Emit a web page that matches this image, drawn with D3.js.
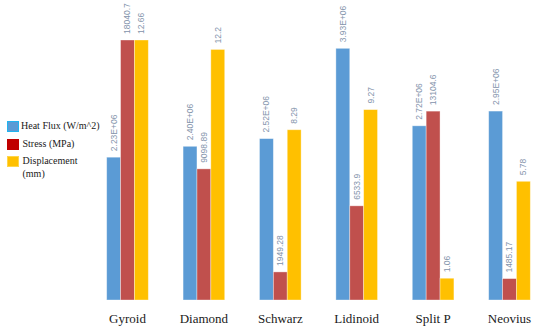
<!DOCTYPE html>
<html>
<head>
<meta charset="utf-8">
<script src="https://cdn.jsdelivr.net/npm/d3@7"></script>
<style>
  html, body { margin: 0; padding: 0; background: #fff; }
  svg { display: block; }
</style>
</head>
<body>
<svg id="chart" width="533" height="329"></svg>
<script>
// Lattice structures compared on three independently scaled measures
const categories = ["Gyroid", "Diamond", "Schwarz", "Lidinoid", "Split P", "Neovius"];
const seriesNames = ["Heat Flux (W/m^2)", "Stress (MPa)", "Displacement (mm)"];
const heatFlux = [2.23e6, 2.40e6, 2.52e6, 3.93e6, 2.72e6, 2.95e6];
const stress = [18040.7, 9098.89, 1949.28, 6533.9, 13104.6, 1485.17];
const displacement = [12.66, 12.2, 8.29, 9.27, 1.06, 5.78];
const seriesMax = [4.06e6, 18040.7, 12.66];

const SERIF = '"Liberation Serif"';
const SANS = '"Liberation Sans"';

const barColors = ["#5b9bd5", "#c0504d", "#ffc000"];
const legendColors = ["#5b9bd5", "#c00000", "#ffc000"];
const legendStrokes = ["#22b4f0", "#c00000", "#ffd54a"];

const svg = d3.select("#chart");
const baseY = 300, topY = 40;

const x0 = d3.scaleBand()
  .domain(categories)
  .range([89.3, 547.7])
  .paddingInner(0.455)
  .paddingOuter(0.2275);

const x1 = d3.scaleBand()
  .domain(d3.range(3))
  .range([0, x0.bandwidth()]);

const yScales = seriesMax.map(m => d3.scaleLinear().domain([0, m]).range([baseY, topY]));

const fmtSci = v => {
  const [m, e] = v.toExponential(2).split("e");
  const sign = e[0] === "-" ? "-" : "+";
  const digits = e.replace(/[+-]/, "").padStart(2, "0");
  return m + "E" + sign + digits;
};
const formatters = [fmtSci, v => String(v), v => String(v)];

const rows = categories.map((c, i) => ({
  cat: c,
  vals: [heatFlux[i], stress[i], displacement[i]]
}));

const groups = svg.selectAll("g.grp")
  .data(rows)
  .join("g")
  .attr("class", "grp")
  .attr("transform", d => `translate(${x0(d.cat)},0)`);

groups.selectAll("rect")
  .data(d => d.vals.map((v, s) => ({ v, s })))
  .join("rect")
  .attr("x", d => x1(d.s))
  .attr("width", x1.bandwidth())
  .attr("y", d => yScales[d.s](d.v))
  .attr("height", d => baseY - yScales[d.s](d.v))
  .attr("fill", d => barColors[d.s])
  .attr("stroke", "#ffffff")
  .attr("stroke-opacity", 0.45)
  .attr("stroke-width", 0.8);

groups.selectAll("text.val")
  .data(d => d.vals.map((v, s) => ({ v, s })))
  .join("text")
  .attr("class", "val")
  .attr("transform", d => `translate(${x1(d.s) + x1.bandwidth() / 2},${yScales[d.s](d.v) - 6}) rotate(-90)`)
  .attr("dy", "0.35em")
  .attr("text-anchor", "start")
  .style("font-family", SANS)
  .style("font-size", "8.5px")
  .style("fill", "#8393ab")
  .text(d => formatters[d.s](d.v));

// Category names under each group
const xAxis = d3.axisBottom(x0).tickSize(0).tickPadding(0);
const axisG = svg.append("g")
  .attr("transform", `translate(0,${baseY})`)
  .call(xAxis);
axisG.select(".domain").remove();
axisG.selectAll("text")
  .attr("y", 23)
  .attr("dy", 0)
  .style("font-family", SERIF)
  .style("font-size", "13px")
  .style("fill", "#1a1a1a");

// Legend
const legendRows = [
  { lines: ["Heat Flux (W/m^2)"], y: 121 },
  { lines: ["Stress (MPa)"], y: 139 },
  { lines: ["Displacement", "(mm)"], y: 156 }
];
const legend = svg.append("g");
legendRows.forEach((r, i) => {
  legend.append("rect")
    .attr("x", 7.5).attr("y", r.y + 0.5)
    .attr("width", 11).attr("height", 10)
    .attr("fill", legendColors[i])
    .attr("stroke", legendStrokes[i])
    .attr("stroke-width", 1);
  const tx = i === 0 ? 21 : 22.5;
  const t = legend.append("text")
    .attr("x", tx)
    .attr("y", r.y + 8)
    .style("font-family", SERIF)
    .style("font-size", "10px")
    .style("fill", "#1a1a1a");
  r.lines.forEach((ln, k) => {
    t.append("tspan").attr("x", tx).attr("dy", k === 0 ? 0 : 13).text(ln);
  });
});
</script>
</body>
</html>
